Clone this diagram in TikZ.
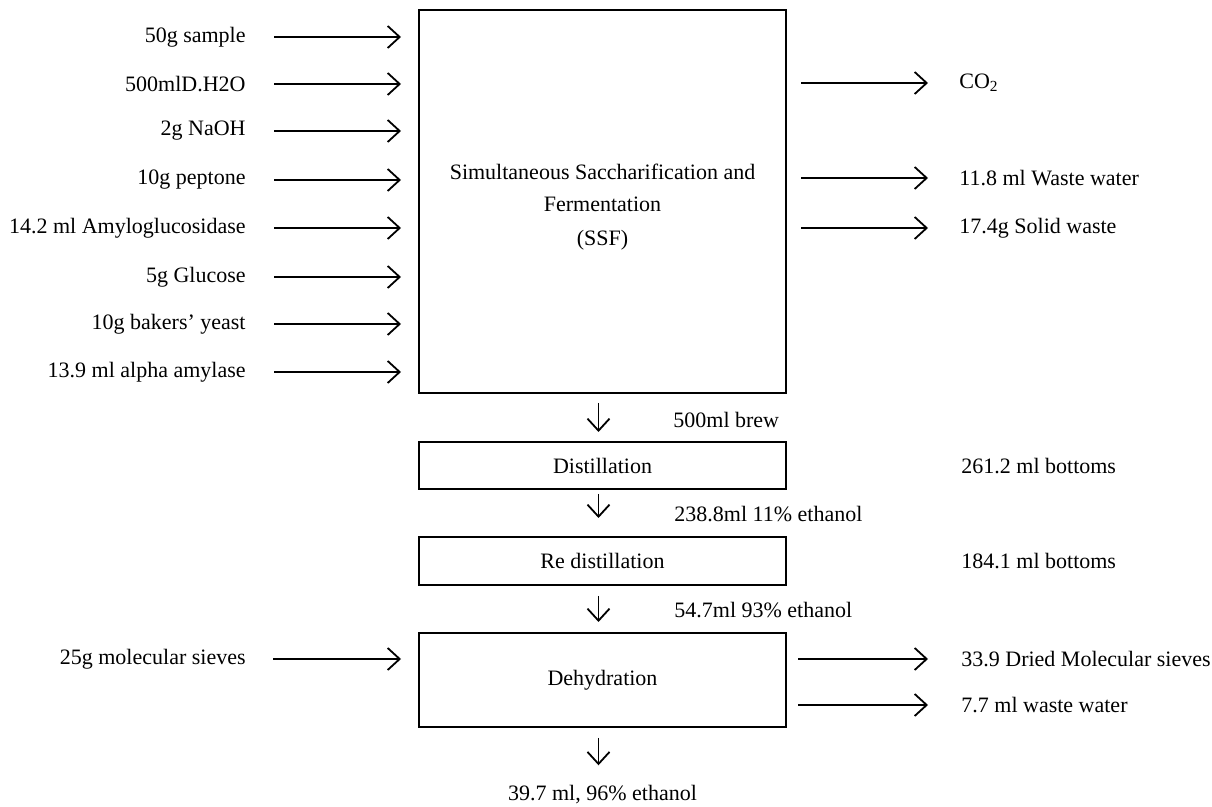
\documentclass[tikz,border=0pt]{standalone}
\usepackage{fontspec}
\setmainfont{Liberation Serif}
\usetikzlibrary{arrows.meta,positioning,calc}

\tikzset{
  box/.style={draw, line width=1pt, inner sep=0pt},
  lbl/.style={inner sep=0pt, font=\fontsize{11}{13}\selectfont},
  arr/.style={line width=0.9pt, -{Straight Barb[length=6pt,width=11pt,line width=0.9pt]}},
  down/.style={arr, transform canvas={xshift=-2pt}},
}

\begin{document}
\begin{tikzpicture}[x=0.5pt,y=-0.5pt]
    \useasboundingbox (0,0) rectangle (1212,807);

    % Process boxes
    \node[box, minimum width=183.5pt, minimum height=191.5pt] (ssf) at (602.5,201.5) {};
    \node[lbl, align=center] at (602.5,172) {Simultaneous Saccharification and};
    \node[lbl] at (602.5,204) {Fermentation};
    \node[lbl] at (602.5,240) {(SSF)};
    \node[box, minimum width=183.5pt, minimum height=23.5pt, lbl] (dist) at (602.5,465.5) {Distillation};
    \node[box, minimum width=183.5pt, minimum height=24pt, lbl] (redist) at (602.5,561) {Re distillation};
    \node[box, minimum width=183.5pt, minimum height=47pt, lbl] (dehyd) at (602.5,680) {Dehydration};

    % Inputs to SSF
    \foreach \y/\t [count=\i] in {37/50g sample, 84/500mlD.H2O, 131/2g NaOH, 180/10g peptone,
        228/14.2 ml Amyloglucosidase, 277/5g Glucose, 324/10g bakers’ yeast, 372/13.9 ml alpha amylase} {
        \node[lbl, anchor=east] (in\i) at (246,\y) {\t};
        \draw[arr, shorten <=14pt, shorten >=8.5pt] (in\i.east) -- (in\i.east -| ssf.west);
    }

    % Outputs of SSF
    \foreach \y/\t [count=\i] in {83/CO\textsubscript{2}, 178/11.8 ml Waste water, 228/17.4g Solid waste} {
        \node[lbl, anchor=west] (out\i) at (959,\y) {\t};
        \draw[arr, shorten <=7pt, shorten >=15.5pt] (out\i.west -| ssf.east) -- (out\i.west);
    }

    % Main line
    \draw[down, shorten <=4.5pt, shorten >=4.5pt] (ssf.south) -- (dist.north);
    \node[lbl, anchor=west] (brew) at (673,420) {500ml brew};
    \node[lbl, anchor=west] (bot1) at (961,466) {261.2 ml bottoms};
    \draw[down, shorten <=2pt, shorten >=9pt] (dist.south) -- (redist.north);
    \node[lbl, anchor=west] (eth1) at (674,514) {238.8ml 11\% ethanol};
    \node[lbl, anchor=west] (bot2) at (961,561) {184.1 ml bottoms};
    \draw[down, shorten <=5pt, shorten >=5pt] (redist.south) -- (dehyd.north);
    \node[lbl, anchor=west] (eth2) at (674,610) {54.7ml 93\% ethanol};

    % Dehydration
    \node[lbl, anchor=east] (sieve) at (246,659) {25g molecular sieves};
    \draw[arr, shorten <=13.5pt, shorten >=8.5pt] (sieve.east) -- (sieve.east -| dehyd.west);
    \node[lbl, anchor=west] (dry) at (961,659) {33.9 Dried Molecular sieves};
    \draw[arr, shorten <=5.5pt, shorten >=16.5pt] (dry.west -| dehyd.east) -- (dry.west);
    \node[lbl, anchor=west] (ww) at (961,705) {7.7 ml waste water};
    \draw[arr, shorten <=5.5pt, shorten >=16.5pt] (ww.west -| dehyd.east) -- (ww.west);
    \node[lbl] (final) at (602.5,795) {39.7 ml, 96\% ethanol};
    \draw[down, shorten <=5pt, shorten >=10pt] (dehyd.south) -- (final.north);
\end{tikzpicture}
\end{document}
